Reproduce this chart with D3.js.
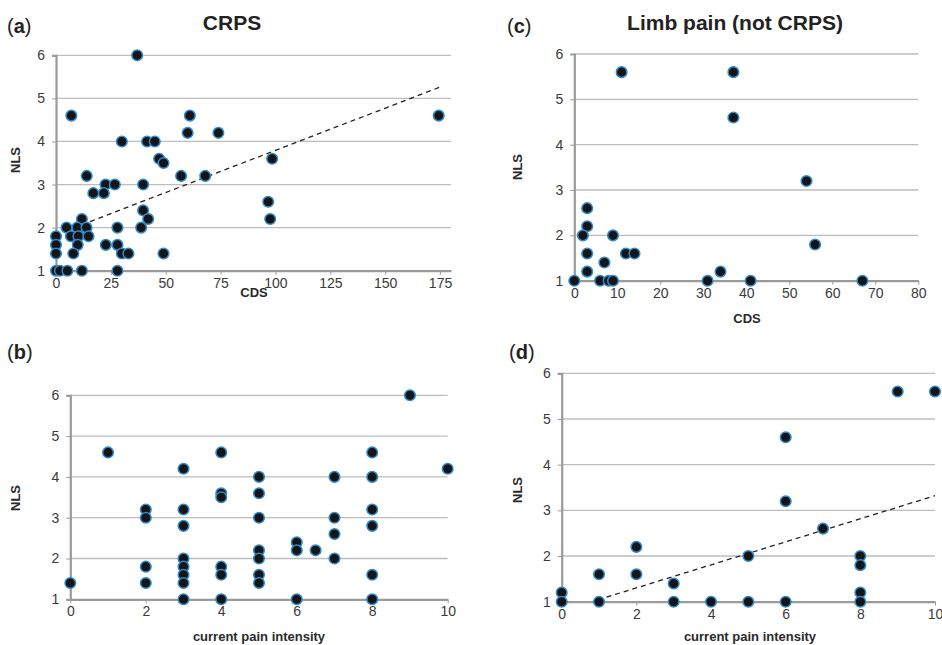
<!DOCTYPE html>
<html>
<head>
<meta charset="utf-8">
<script src="https://cdn.jsdelivr.net/npm/d3@7"></script>
<style>
  body { margin: 0; background: #fff; }
  svg { font-family: "Liberation Sans", Arial, sans-serif; }
</style>
</head>
<body>
<svg id="chart" width="942" height="645"></svg>
<script>
// Panel (a): CRPS, CDS vs NLS
const aCds = [37, 7, 30, 41.5, 45, 60, 61, 74, 47, 49, 57, 68, 14, 22.6, 26.8, 39.7, 17, 21.8, 39.7, 42, 38.8, 28,
  11.8, 9.7, 13.9, 4.8, 6.8, 10.2, 14.8, 0, 0, 0, 9.9, 7.9, 22.7, 28, 30, 33, 49, 0, 1.8, 5.2, 11.8, 28,
  98.5, 96.7, 97.6, 174.4];
const aNls = [6.0, 4.6, 4.0, 4.0, 4.0, 4.2, 4.6, 4.2, 3.6, 3.5, 3.2, 3.2, 3.2, 3.0, 3.0, 3.0, 2.8, 2.8, 2.4, 2.2, 2.0, 2.0,
  2.2, 2.0, 2.0, 2.0, 1.8, 1.8, 1.8, 1.8, 1.6, 1.4, 1.6, 1.4, 1.6, 1.6, 1.4, 1.4, 1.4, 1.0, 1.0, 1.0, 1.0, 1.0,
  3.6, 2.6, 2.2, 4.6];
const aTrendX = [15.5, 174.9];
const aTrendY = [2.14, 5.26];

// Panel (b): CRPS, current pain intensity vs NLS
const bPain = [0, 1, 2, 2, 2, 2, 3, 3, 3, 3, 3, 3, 3, 3, 4, 4, 4, 4, 4, 4, 9, 8, 10,
  5, 7, 8, 5, 5, 7, 8, 8, 7, 6, 6, 6.5, 5, 5, 7, 5, 5, 8, 6, 8];
const bNls = [1.4, 4.6, 3.2, 3.0, 1.8, 1.4, 4.2, 3.2, 2.8, 2.0, 1.8, 1.6, 1.4, 1.0, 4.6, 3.6, 3.5, 1.8, 1.6, 1.0, 6.0, 4.6, 4.2,
  4.0, 4.0, 4.0, 3.6, 3.0, 3.0, 3.2, 2.8, 2.6, 2.4, 2.2, 2.2, 2.2, 2.0, 2.0, 1.6, 1.4, 1.6, 1.0, 1.0];

// Panel (c): limb pain (not CRPS), CDS vs NLS
const cCds = [11, 3, 3, 2, 3, 3, 7, 9, 12, 14, 0, 6, 8, 9, 31, 37, 37, 54, 56, 34, 41, 67];
const cNls = [5.6, 2.6, 2.2, 2.0, 1.6, 1.2, 1.4, 2.0, 1.6, 1.6, 1.0, 1.0, 1.0, 1.0, 1.0, 5.6, 4.6, 3.2, 1.8, 1.2, 1.0, 1.0];

// Panel (d): limb pain (not CRPS), current pain intensity vs NLS
const dPain = [0, 0, 1, 1, 2, 2, 3, 3, 4, 9, 10, 6, 6, 7, 5, 8, 8, 8, 8, 5, 6];
const dNls = [1.2, 1.0, 1.6, 1.0, 2.2, 1.6, 1.4, 1.0, 1.0, 5.6, 5.6, 4.6, 3.2, 2.6, 2.0, 2.0, 1.8, 1.2, 1.0, 1.0, 1.0];
const dTrendX = [1.2, 10];
const dTrendY = [1.1, 3.32];

const nlsTicks = [1, 2, 3, 4, 5, 6];
const cdsTicksA = [0, 25, 50, 75, 100, 125, 150, 175];
const cdsTicksC = [0, 10, 20, 30, 40, 50, 60, 70, 80];
const painTicks = [0, 2, 4, 6, 8, 10];

const svg = d3.select("#chart");

const panels = [
  { tag: "a", xs: aCds, ys: aNls, tx: aTrendX, ty: aTrendY, xDomain: [0, 180], xTicks: cdsTicksA,
    left: 56, right: 451, top: 55.3, bottom: 270.7, xLabel: "CDS", xLabelPos: [254, 297],
    yLabelPos: [20, 160], tagPos: [7, 33] },
  { tag: "b", xs: bPain, ys: bNls, xDomain: [0, 10], xTicks: painTicks,
    left: 70.3, right: 447.7, top: 395.3, bottom: 599.3, xLabel: "current pain intensity", xLabelPos: [259, 641],
    yLabelPos: [20, 498], tagPos: [7, 359] },
  { tag: "c", xs: cCds, ys: cNls, xDomain: [0, 80], xTicks: cdsTicksC,
    left: 574.3, right: 918.3, top: 54, bottom: 280.7, xLabel: "CDS", xLabelPos: [747, 323],
    yLabelPos: [522, 167], tagPos: [507, 33] },
  { tag: "d", xs: dPain, ys: dNls, tx: dTrendX, ty: dTrendY, xDomain: [0, 10], xTicks: painTicks,
    left: 561.7, right: 935, top: 373.3, bottom: 601.7, xLabel: "current pain intensity", xLabelPos: [750, 641],
    yLabelPos: [522, 490], tagPos: [509, 359] }
];

panels.forEach(p => {
  const x = d3.scaleLinear().domain(p.xDomain).range([p.left, p.right]);
  const y = d3.scaleLinear().domain([1, 6]).range([p.bottom, p.top]);
  const g = svg.append("g");

  // horizontal gridlines
  g.selectAll(".grid")
    .data(nlsTicks.slice(1))
    .enter()
    .append("line")
    .attr("x1", p.left)
    .attr("x2", p.right)
    .attr("y1", d => y(d))
    .attr("y2", d => y(d))
    .style("stroke", "#bdbdbd")
    .style("stroke-width", 1.3);

  // y axis
  const yAxis = g.append("g")
    .attr("transform", `translate(${p.left},0)`)
    .call(d3.axisLeft(y).tickValues(nlsTicks).tickSize(4).tickPadding(7).tickFormat(d3.format("d")));
  yAxis.select(".domain").style("stroke", "#9a9a9a").style("stroke-width", 2.2);
  yAxis.selectAll(".tick line").style("stroke", "#9a9a9a");
  yAxis.selectAll("text").style("font-size", "14px").style("fill", "#3a3a3a");

  // x axis
  const xAxis = g.append("g")
    .attr("transform", `translate(0,${p.bottom})`)
    .call(d3.axisBottom(x).tickValues(p.xTicks).tickSize(4).tickSizeOuter(0).tickPadding(3));
  xAxis.select(".domain").style("stroke", "#9a9a9a").style("stroke-width", 2.2);
  xAxis.selectAll(".tick line").style("stroke", "#9a9a9a");
  xAxis.selectAll("text").style("font-size", "14px").style("fill", "#3a3a3a");

  // trend line
  if (p.tx) {
    g.append("line")
      .attr("x1", x(p.tx[0]))
      .attr("y1", y(p.ty[0]))
      .attr("x2", x(p.tx[1]))
      .attr("y2", y(p.ty[1]))
      .style("stroke", "#222")
      .style("stroke-width", 1.3)
      .style("stroke-dasharray", "5,4");
  }

  // points
  g.selectAll(".pt")
    .data(p.xs.map((v, i) => [v, p.ys[i]]))
    .enter()
    .append("circle")
    .attr("cx", d => x(d[0]))
    .attr("cy", d => y(d[1]))
    .attr("r", 5.3)
    .style("fill", "#151515")
    .style("stroke", "#2e8ad0")
    .style("stroke-width", 1.5);

  // axis labels
  g.append("text")
    .attr("x", p.xLabelPos[0])
    .attr("y", p.xLabelPos[1])
    .attr("text-anchor", "middle")
    .text(p.xLabel)
    .style("font-size", "13px")
    .style("font-weight", "bold")
    .style("fill", "#2a2a2a");

  g.append("text")
    .attr("transform", `translate(${p.yLabelPos[0]},${p.yLabelPos[1]}) rotate(-90)`)
    .attr("text-anchor", "middle")
    .text("NLS")
    .style("font-size", "13px")
    .style("font-weight", "bold")
    .style("fill", "#2a2a2a");

  // panel tag like "(a)"
  const tag = g.append("text")
    .attr("x", p.tagPos[0])
    .attr("y", p.tagPos[1])
    .style("font-size", "20px")
    .style("fill", "#222");
  tag.append("tspan").text("(");
  tag.append("tspan").text(p.tag).style("font-weight", "bold");
  tag.append("tspan").text(")");
});

// titles
svg.append("text")
  .attr("x", 232)
  .attr("y", 30)
  .attr("text-anchor", "middle")
  .text("CRPS")
  .style("font-size", "21px")
  .style("font-weight", "bold")
  .style("fill", "#222");

svg.append("text")
  .attr("x", 735)
  .attr("y", 30)
  .attr("text-anchor", "middle")
  .text("Limb pain (not CRPS)")
  .style("font-size", "21px")
  .style("font-weight", "bold")
  .style("fill", "#222");
</script>
</body>
</html>
